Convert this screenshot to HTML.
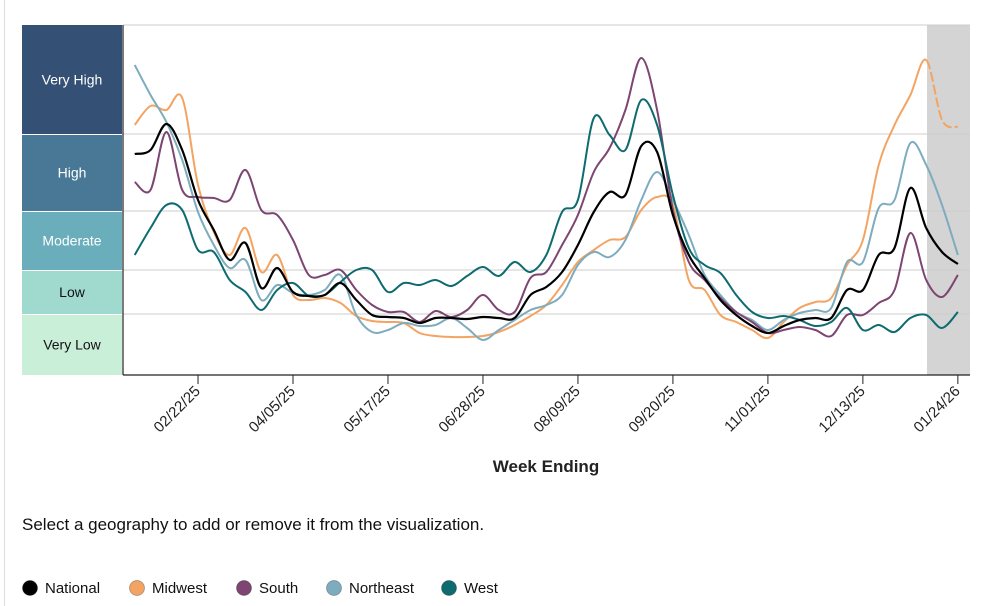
<!DOCTYPE html>
<html><head><meta charset="utf-8">
<style>
body{margin:0;background:#fff;font-family:"Liberation Sans",sans-serif;}
#wrap{position:relative;width:999px;height:606px;overflow:hidden;}
</style></head>
<body>
<div id="wrap">
<svg id="chart" width="999" height="606">
  <line x1="4.5" y1="0" x2="4.5" y2="606" stroke="#ddd" stroke-width="1"/>
  <g id="bands"></g>
  <rect x="927" y="25" width="43" height="350" fill="#d4d4d4"/>
  <g id="grid"></g>
  <g id="lines"></g>
  <line x1="123" y1="25" x2="123" y2="375" stroke="#222" stroke-width="1.2"/>
  <line x1="123" y1="375" x2="970" y2="375" stroke="#222" stroke-width="1.2"/>
  <g id="xticks"></g>
  <text x="546" y="472" text-anchor="middle" font-size="17" font-weight="bold" fill="#222">Week Ending</text>
  <text x="22" y="530" font-size="17" fill="#111">Select a geography to add or remove it from the visualization.</text>
  <g id="legend"></g>
</svg>
</div>
<script>
const NS="http://www.w3.org/2000/svg";
const weekCount=53;
const tickLabels=["02/22/25","04/05/25","05/17/25","06/28/25","08/09/25","09/20/25","11/01/25","12/13/25","01/24/26"];
const tickWeeks=[4,10,16,22,28,34,40,46,52];
const seriesNames=["National","Midwest","South","Northeast","West"];
const seriesColors=["#000000","#f4a462","#7d4571","#7eacbf","#0e6b70"];
const national=[221,225,251,225,175,145,115,132,87,107,83,79,80,92,75,60,58,57,52,57,57,56,58,57,57,80,88,103,130,163,183,180,229,223,160,120,97,75,60,49,42,49,55,57,57,85,85,120,127,187,147,123,111];
const midwest=[250,269,265,277,190,143,120,147,103,120,80,75,77,72,59,54,53,52,42,39,38,38,39,43,50,59,70,90,113,125,135,138,165,178,170,95,85,60,53,45,37,53,67,73,77,110,135,210,250,280,315,255,248];
const south=[193,185,243,185,178,177,175,205,165,160,135,100,100,105,85,70,63,63,53,64,58,65,80,65,63,97,103,130,160,203,227,265,317,265,165,113,95,77,63,53,42,45,48,45,39,60,60,72,85,142,95,78,100];
const northeast=[310,280,253,215,163,130,107,115,75,90,82,80,85,100,60,43,45,52,49,50,57,47,35,45,55,65,70,80,110,123,118,135,175,203,175,140,100,80,63,55,45,55,62,65,67,113,113,167,175,232,210,170,120];
const west=[120,147,170,165,125,123,95,83,65,85,92,79,80,93,105,105,83,92,90,95,89,99,108,99,113,103,120,163,175,257,240,225,275,250,180,127,110,102,80,63,57,59,55,49,53,67,45,50,43,57,60,47,63];
const levelNames=["Very High","High","Moderate","Low","Very Low"];
const levelTops=[350,241,164,105,61];
const levelBottoms=[241,164,105,61,0];
const levelColors=["#345175","#487895","#6aaebb","#a0dacf","#c9efd9"];
const levelText=["#fff","#fff","#fff","#111","#111"];

const X0=134.7,XW=15.83,Y0=375,YH=350,YMAX=350;
function xScale(i){return X0+i*XW;}
function yScale(v){return Y0-v/YMAX*YH;}

const bands=document.getElementById('bands'),grid=document.getElementById('grid');
levelNames.forEach((n,k)=>{
  const y1=yScale(levelTops[k]),y2=yScale(levelBottoms[k]);
  const r=document.createElementNS(NS,'rect');
  r.setAttribute('x',22);r.setAttribute('y',y1+(k?1:0));r.setAttribute('width',100);r.setAttribute('height',y2-y1-(k?1:0));
  r.setAttribute('fill',levelColors[k]);
  
  
  bands.appendChild(r);
  const t=document.createElementNS(NS,'text');
  t.setAttribute('x',72);t.setAttribute('y',(y1+y2)/2+5);t.setAttribute('text-anchor','middle');
  t.setAttribute('font-size','14');t.setAttribute('fill',levelText[k]);t.textContent=n;
  
  
  bands.appendChild(t);
  const l=document.createElementNS(NS,'line');
  l.setAttribute('x1',123);l.setAttribute('x2',970);l.setAttribute('y1',y1);l.setAttribute('y2',y1);
  l.setAttribute('stroke','#ccc');l.setAttribute('stroke-width','1');
  
  
  grid.appendChild(l);
});

const xt=document.getElementById('xticks');
tickLabels.forEach((lab,k)=>{
  const x=xScale(tickWeeks[k]);
  const l=document.createElementNS(NS,'line');
  l.setAttribute('x1',x);l.setAttribute('x2',x);l.setAttribute('y1',375);l.setAttribute('y2',384);
  l.setAttribute('stroke','#222');
  
  
  xt.appendChild(l);
  const t=document.createElementNS(NS,'text');
  t.setAttribute('x',x+3);t.setAttribute('y',392);t.setAttribute('text-anchor','end');
  t.setAttribute('font-size','15');t.setAttribute('fill','#222');
  t.setAttribute('transform','rotate(-45 '+(x+3)+' 392)');
  t.textContent=lab;
  
  
  xt.appendChild(t);
});

function pathFor(vals,a,b){
  const full=[];for(let i=0;i<vals.length;i++)full.push([xScale(i),yScale(vals[i])]);
  let d='M'+full[a][0].toFixed(1)+','+full[a][1].toFixed(1);
  for(let i=a;i<b;i++){
    const p0=full[Math.max(i-1,0)],p1=full[i],p2=full[i+1],p3=full[Math.min(i+2,full.length-1)];
    const c1=[p1[0]+(p2[0]-p0[0])/6,p1[1]+(p2[1]-p0[1])/6];
    const c2=[p2[0]-(p3[0]-p1[0])/6,p2[1]-(p3[1]-p1[1])/6];
    d+=' C'+c1[0].toFixed(1)+','+c1[1].toFixed(1)+' '+c2[0].toFixed(1)+','+c2[1].toFixed(1)+' '+p2[0].toFixed(1)+','+p2[1].toFixed(1);
  }
  return d;
}
const allSeries=[national,midwest,south,northeast,west];
const lines=document.getElementById('lines');
const order=[1,3,2,4,0];
order.forEach(k=>{
  const vals=allSeries[k];
  const p=document.createElementNS(NS,'path');
  p.setAttribute('d',pathFor(vals,0,50));
  p.setAttribute('fill','none');p.setAttribute('stroke',seriesColors[k]);p.setAttribute('stroke-width',k===0?2.2:2);
  
  
  lines.appendChild(p);
  const q=document.createElementNS(NS,'path');
  q.setAttribute('d',pathFor(vals,50,52));
  q.setAttribute('fill','none');q.setAttribute('stroke',seriesColors[k]);q.setAttribute('stroke-width',k===0?2.2:2);
  if(k===1)q.setAttribute('stroke-dasharray','10,3');
  
  
  lines.appendChild(q);
});

const leg=document.getElementById('legend');
const legX=[30,137,244,334,449];
seriesNames.forEach((n,k)=>{
  const g=document.createElementNS(NS,'g');
  
  
  const c=document.createElementNS(NS,'circle');
  c.setAttribute('cx',legX[k]);c.setAttribute('cy',588);c.setAttribute('r',7.5);
  c.setAttribute('fill',seriesColors[k]);c.setAttribute('stroke','rgba(0,0,0,0.25)');
  
  
  g.appendChild(c);
  const t=document.createElementNS(NS,'text');
  t.setAttribute('x',legX[k]+15);t.setAttribute('y',593);t.setAttribute('font-size','15');t.setAttribute('fill','#111');
  t.textContent=n;
  
  
  g.appendChild(t);
  leg.appendChild(g);
});
</script>
</body></html>
